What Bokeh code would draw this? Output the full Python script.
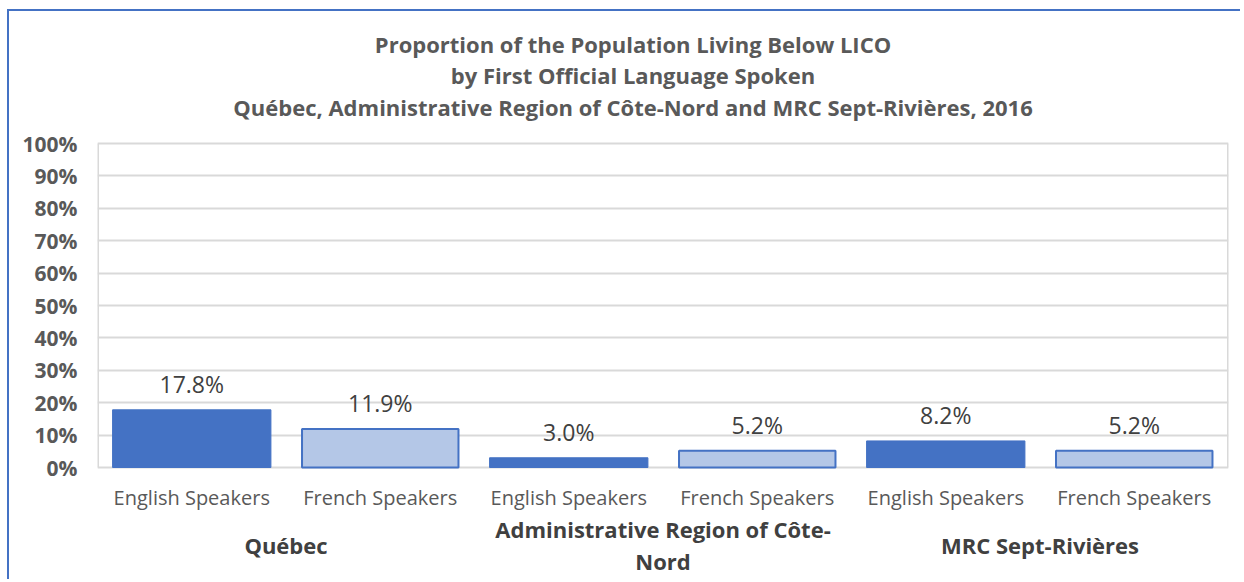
from bokeh.plotting import figure
from bokeh.models import ColumnDataSource, NumeralTickFormatter, FixedTicker, Range1d
from bokeh.core.properties import value
from bokeh.embed import file_html
from bokeh.resources import INLINE

# ---- data ----
groups = ["Québec", "Administrative Region of Côte-Nord", "MRC Sept-Rivières"]
group_lines = [["Québec"], ["Administrative Region of Côte-", "Nord"], ["MRC Sept-Rivières"]]
speakers = ["English Speakers", "French Speakers"]
english_values = [0.178, 0.030, 0.082]
french_values = [0.119, 0.052, 0.052]
y_ticks = [0.0, 0.1, 0.2, 0.3, 0.4, 0.5, 0.6, 0.7, 0.8, 0.9, 1.0]
title_lines = [
    "Proportion of the Population Living Below LICO",
    "by First Official Language Spoken",
    "Québec, Administrative Region of Côte-Nord and MRC Sept-Rivières, 2016",
]

FONT = value("Open Sans")
DARK = "#4472C4"
LIGHT = "#B4C7E7"
GRAY = "#595959"
DGRAY = "#404040"

# ---- layout (pixels) ----
W, H = 1233, 570
LEFT, RIGHT = 88, 14
FRAME_TOP_PX = 132      # y=1 from canvas top
FRAME_ZERO_PX = 456     # y=0 from canvas top
ppu = FRAME_ZERO_PX - FRAME_TOP_PX
y_max = 1 + FRAME_TOP_PX / ppu
y_min = -(H - FRAME_ZERO_PX) / ppu

p = figure(width=W, height=H, output_backend="svg", toolbar_location=None,
           x_range=Range1d(0, 6), y_range=Range1d(y_min, y_max),
           min_border_left=LEFT, min_border_right=RIGHT, min_border_top=0, min_border_bottom=0)
p.styles = {"border-left": "2px solid #4472C4", "border-top": "2px solid #4472C4",
            "margin-left": "7px", "margin-top": "9px"}

# frame edges (left/right) between 0 and 100%
p.segment(x0=[p.x_range.start, p.x_range.end], y0=[y_ticks[0]] * 2,
          x1=[p.x_range.start, p.x_range.end], y1=[y_ticks[-1]] * 2,
          line_color="#d9d9d9", line_width=3)

# bars
xs_en = [2 * i + 0.5 for i in range(len(groups))]
xs_fr = [2 * i + 1.5 for i in range(len(groups))]
src_en = ColumnDataSource(dict(x=xs_en, top=english_values,
                               lab=[f"{v*100:.1f}%" for v in english_values]))
src_fr = ColumnDataSource(dict(x=xs_fr, top=french_values,
                               lab=[f"{v*100:.1f}%" for v in french_values]))
p.vbar(x="x", top="top", width=0.84, source=src_en, fill_color=DARK, line_color=DARK, line_width=1)
p.vbar(x="x", top="top", width=0.83, source=src_fr, fill_color=LIGHT, line_color=DARK, line_width=2)

for src in (src_en, src_fr):
    p.text(x="x", y="top", text="lab", source=src, y_offset=-26,
           text_align="center", text_baseline="middle",
           text_font=FONT, text_font_size="23px", text_color=DGRAY)

# category labels below
cat_x, cat_t = [], []
for i in range(len(groups)):
    for j, s in enumerate(speakers):
        cat_x.append(2 * i + 0.5 + j)
        cat_t.append(s)
p.text(x=cat_x, y=[0] * len(cat_x), text=cat_t, y_offset=30,
       text_align="center", text_baseline="middle",
       text_font=FONT, text_font_size="20px", text_color=GRAY)

# group labels
g_x, g_t, g_off = [], [], []
for i, lines in enumerate(group_lines):
    n = len(lines)
    for k, line in enumerate(lines):
        g_x.append(2 * i + 1.0)
        g_t.append(line)
        g_off.append(77.5 + (k - (n - 1) / 2) * 32)
p.text(x=g_x, y=[0] * len(g_x), text=g_t, y_offset=g_off,
       text_align="center", text_baseline="middle", text_font=FONT,
       text_font_size="22px", text_font_style="bold", text_color=DGRAY)

# title
p.text(x=[3] * 3, y=[1] * 3, text=title_lines, x_offset=-30, y_offset=[-100, -69, -37],
       text_align="center", text_baseline="middle", text_font=FONT,
       text_font_size="22px", text_font_style="bold", text_color=GRAY)

# axes
p.xaxis.visible = False
p.xgrid.visible = False
p.yaxis.ticker = FixedTicker(ticks=y_ticks)
p.yaxis.formatter = NumeralTickFormatter(format="0%")
p.yaxis.axis_line_color = None
p.yaxis.major_tick_line_color = None
p.yaxis.minor_tick_line_color = None
p.yaxis.major_tick_out = 0
p.yaxis.major_tick_in = 0
p.yaxis.major_label_text_font = "Open Sans"
p.yaxis.major_label_text_font_size = "21px"
p.yaxis.major_label_text_font_style = "bold"
p.yaxis.major_label_text_color = GRAY
p.yaxis.major_label_standoff = 20
p.ygrid.ticker = FixedTicker(ticks=y_ticks)
p.ygrid.grid_line_color = "#d9d9d9"
p.ygrid.grid_line_width = 2
p.outline_line_color = None
p.background_fill_color = "white"
p.border_fill_color = "white"

open("out.html", "w").write(file_html(p, INLINE))
